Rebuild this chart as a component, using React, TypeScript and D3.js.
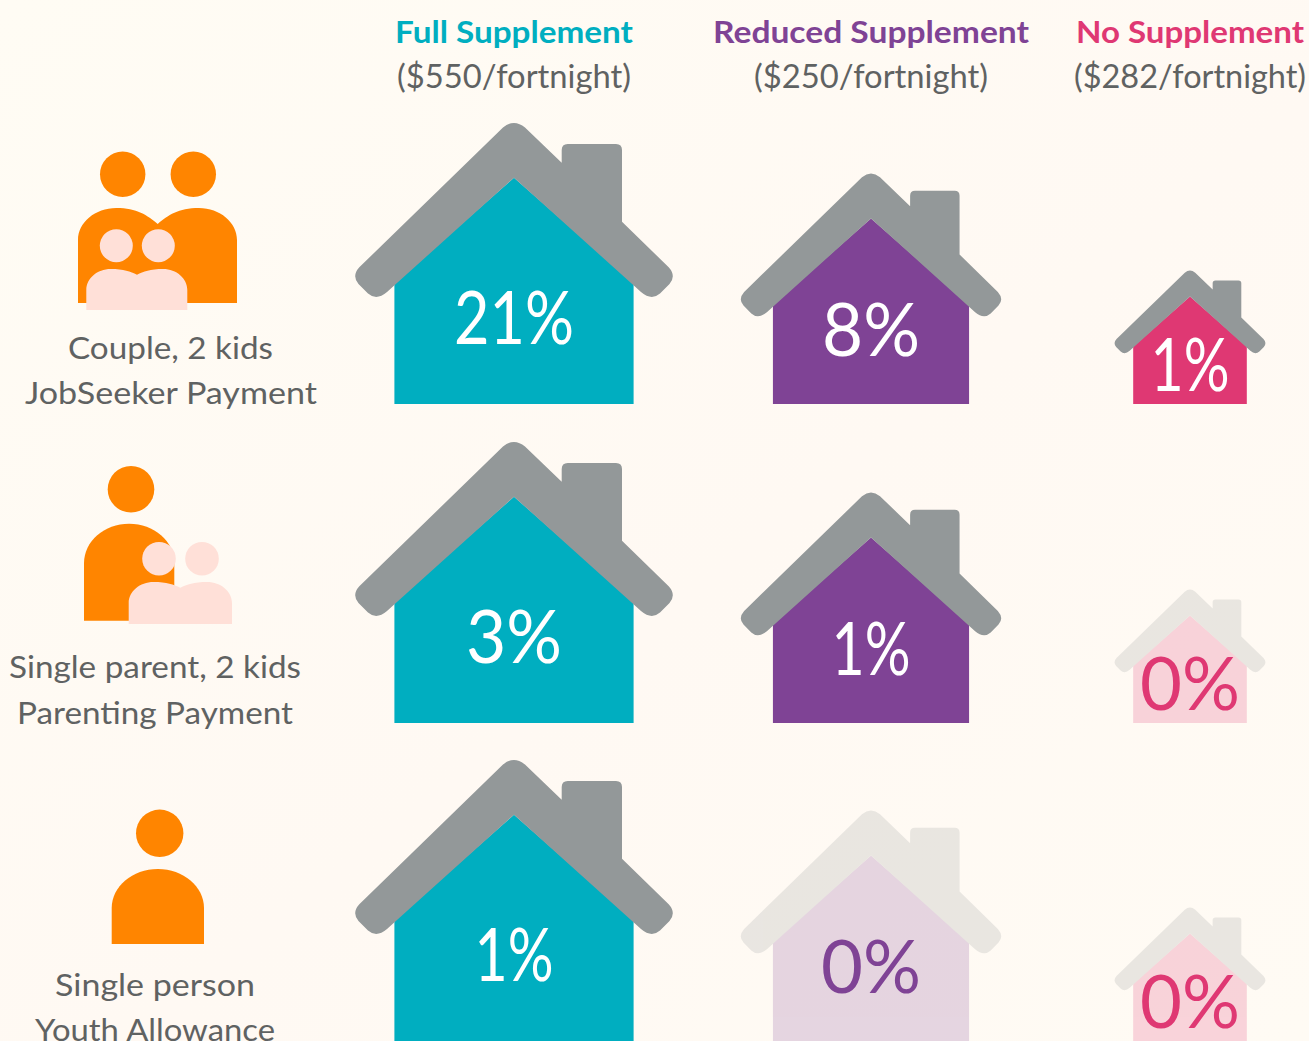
import React from "react";
import * as d3 from "d3";

const WIDTH = 1309;
const HEIGHT = 1041;

// Data
const supplements = ["Full Supplement", "Reduced Supplement", "No Supplement"];
const supplementAmounts = ["($550/fortnight)", "($250/fortnight)", "($282/fortnight)"];
const households = ["couple", "parent", "single"];
const householdLabels = [
  ["Couple, 2 kids", "JobSeeker Payment"],
  ["Single parent, 2 kids", "Parenting Payment"],
  ["Single person", "Youth Allowance"],
];
const fullSupplementValues = [21, 3, 1];
const reducedSupplementValues = [8, 1, 0];
const noSupplementValues = [1, 0, 0];
const seriesValues = [fullSupplementValues, reducedSupplementValues, noSupplementValues];

// Layout and style
const columnColors = ["#00aec0", "#7f4395", "#df3873"];
const columnCentres = [514, 871, 1190];
const rowBottoms = [404, 723, 1041];
const houseScales = [1, 0.82, 0.475];
const valueLift = [60, 48, 13];
const headerWidths = [238, 316, 228];
const amountWidths = [234, 234, 232];
const labelLayout = [
  { x: [170.5, 171], y: [359, 404], w: [205, 292] },
  { x: [155, 155], y: [678, 724], w: [292, 276] },
  { x: [155, 155], y: [996, 1041], w: [200, 240] },
];
const valueWidths: Record<string, number> = { "21%": 120, "8%": 98, "3%": 96, "1%": 79, "0%": 100 };

const ORANGE = "#ff8500";
const KID = "#ffe0d8";
const ROOF = "#939899";
const TEXT = "#5f6262";
const FONT = "Lato, sans-serif";

const xScale = d3.scaleOrdinal<string, number>().domain(supplements).range(columnCentres);
const yScale = d3.scaleOrdinal<string, number>().domain(households).range(rowBottoms);
const sizeScale = d3.scaleOrdinal<string, number>().domain(supplements).range(houseScales);
const colorScale = d3.scaleOrdinal<string, string>().domain(supplements).range(columnColors);

function roofPath() {
  const p = d3.path();
  p.moveTo(-11, -276.5);
  p.quadraticCurveTo(0, -285.5, 11, -276.5);
  p.lineTo(47.7, -241.3);
  p.lineTo(47.7, -254);
  p.quadraticCurveTo(47.7, -260, 53.7, -260);
  p.lineTo(102, -260);
  p.quadraticCurveTo(108, -260, 108, -254);
  p.lineTo(108, -182.3);
  p.lineTo(154.7, -136.7);
  p.quadraticCurveTo(162.5, -128, 155.5, -120);
  p.lineTo(146, -110.5);
  p.quadraticCurveTo(137.5, -103, 127, -112);
  p.lineTo(0, -226.3);
  p.lineTo(-127, -112);
  p.quadraticCurveTo(-137.5, -103, -146, -110.5);
  p.lineTo(-155.5, -120);
  p.quadraticCurveTo(-162.5, -128, -154.7, -136.7);
  p.closePath();
  return p.toString();
}

function bodyPath() {
  const p = d3.path();
  p.moveTo(-119.6, 0);
  p.lineTo(-119.6, -121);
  p.lineTo(0, -226.3);
  p.lineTo(119.6, -121);
  p.lineTo(119.6, 0);
  p.closePath();
  return p.toString();
}

// One or two rounded "shoulders" joined at a notch
function shoulders(x0: number, x1: number, top: number, bottom: number, shoulderY: number, notch?: [number, number]) {
  const p = d3.path();
  const k = 0.45;
  p.moveTo(x0, bottom);
  p.lineTo(x0, shoulderY);
  if (notch) {
    const [nx, ny] = notch;
    const lp = (x0 + nx) / 2 - (nx - x0) * 0.02;
    const rp = (x1 + nx) / 2 + (x1 - nx) * 0.02;
    p.bezierCurveTo(x0, top + (shoulderY - top) * k, lp - (lp - x0) * 0.55, top, lp, top);
    p.bezierCurveTo(lp + (nx - lp) * 0.5, top, nx - (nx - lp) * 0.25, top + (ny - top) * 0.45, nx, ny);
    p.bezierCurveTo(nx + (rp - nx) * 0.25, top + (ny - top) * 0.45, rp - (rp - nx) * 0.5, top, rp, top);
    p.bezierCurveTo(rp + (x1 - rp) * 0.55, top, x1, top + (shoulderY - top) * k, x1, shoulderY);
  } else {
    const m = (x0 + x1) / 2;
    p.bezierCurveTo(x0, top + (shoulderY - top) * k, m - (m - x0) * 0.55, top, m, top);
    p.bezierCurveTo(m + (x1 - m) * 0.55, top, x1, top + (shoulderY - top) * k, x1, shoulderY);
  }
  p.lineTo(x1, bottom);
  p.closePath();
  return p.toString();
}

function Couple() {
  return (
    <g>
      <circle cx={122.7} cy={174.3} r={22.7} fill={ORANGE} />
      <circle cx={193.3} cy={174.3} r={22.7} fill={ORANGE} />
      <path d={shoulders(78, 237, 208, 303, 240, [157.7, 224])} fill={ORANGE} />
      <circle cx={116.3} cy={245.7} r={16.5} fill={KID} />
      <circle cx={158.3} cy={245.7} r={16.5} fill={KID} />
      <path d={shoulders(86.3, 187.3, 269, 310, 290, [137, 274.7])} fill={KID} />
    </g>
  );
}

function Parent() {
  return (
    <g>
      <circle cx={131} cy={489.3} r={23.3} fill={ORANGE} />
      <path d={shoulders(84, 174.3, 523.7, 620.7, 563)} fill={ORANGE} />
      <circle cx={159} cy={558.7} r={16.8} fill={KID} />
      <circle cx={202} cy={558.7} r={16.8} fill={KID} />
      <path d={shoulders(128.7, 232, 582, 624, 603, [180.3, 587.7])} fill={KID} />
    </g>
  );
}

function Single() {
  return (
    <g>
      <circle cx={159.7} cy={833.3} r={23.7} fill={ORANGE} />
      <path d={shoulders(111.7, 204, 869, 944, 908)} fill={ORANGE} />
    </g>
  );
}

function FitText(props: { x: number; y: number; w: number; size: number; fill: string; weight: number; children: string }) {
  const { x, y, w, size, fill, weight, children } = props;
  return (
    <text x={x} y={y} textAnchor="middle" textLength={w} lengthAdjust="spacingAndGlyphs"
      fontFamily={FONT} fontSize={size} fontWeight={weight} fill={fill}>
      {children}
    </text>
  );
}

export default function App() {
  const roof = roofPath();
  const body = bodyPath();
  return (
    <svg width={WIDTH} height={HEIGHT} viewBox={`0 0 ${WIDTH} ${HEIGHT}`}
      style={{ position: "absolute", left: 0, top: 0, display: "block" }}>
      <defs>
        <linearGradient id="bg" x1="0" y1="0" x2="1" y2="1">
          <stop offset="0" stopColor="#fffcf4" />
          <stop offset="0.55" stopColor="#fff9f3" />
          <stop offset="1" stopColor="#fffbf4" />
        </linearGradient>
      </defs>
      <rect width={WIDTH} height={HEIGHT} fill="url(#bg)" />

      {supplements.map((s, c) => (
        <g key={s}>
          <FitText x={xScale(s)} y={43} w={headerWidths[c]} size={30} weight={700} fill={colorScale(s)}>{s}</FitText>
          <FitText x={xScale(s)} y={88} w={amountWidths[c]} size={32} weight={400} fill={TEXT}>{supplementAmounts[c]}</FitText>
        </g>
      ))}

      <Couple />
      <Parent />
      <Single />

      {householdLabels.map((lines, r) =>
        lines.map((line, i) => (
          <FitText key={line} x={labelLayout[r].x[i]} y={labelLayout[r].y[i]} w={labelLayout[r].w[i]} size={31} weight={400} fill={TEXT}>
            {line}
          </FitText>
        ))
      )}

      {supplements.map((s, c) =>
        households.map((h, r) => {
          const v = seriesValues[c][r];
          const label = `${v}%`;
          const cx = xScale(s);
          const by = yScale(h);
          return (
            <g key={s + h}>
              <g transform={`translate(${cx},${by}) scale(${sizeScale(s)})`} opacity={v === 0 ? 0.2 : 1}>
                <path d={body} fill={colorScale(s)} />
                <path d={roof} fill={ROOF} />
              </g>
              <FitText x={cx} y={by - valueLift[c]} w={valueWidths[label]} size={73} weight={400}
                fill={v === 0 ? colorScale(s) : "#ffffff"}>
                {label}
              </FitText>
            </g>
          );
        })
      )}
    </svg>
  );
}
